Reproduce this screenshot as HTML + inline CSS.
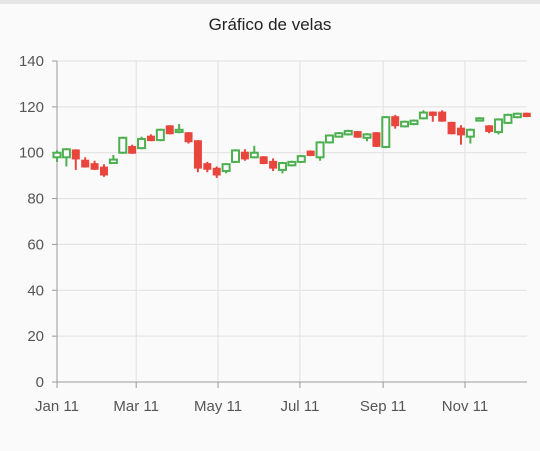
<!DOCTYPE html>
<html><head><meta charset="utf-8"><style>
body{margin:0;background:#fafafa;font-family:"Liberation Sans",sans-serif}
svg{display:block}
</style></head><body>
<svg id="c" width="540" height="451">
<rect x="0" y="0" width="540" height="4" fill="#e6e6e6"/>
<text x="270" y="30" text-anchor="middle" font-size="17" fill="#222">Gráfico de velas</text>
</svg>
<script>
const opens =[98,98,101,96.5,95,93.5,95.5,100,102.5,102,107,105.5,111.5,109,108.5,105,95,93,92,96,100,98,98,96,92.5,94.5,96,100.5,98,104.5,107,108,109,106.5,108.5,102.5,115.5,111.5,112.5,115,117.5,117.5,113,110.5,107,114,111.5,109,113,115.5,117];
const closes=[100,101.5,97.5,94,93,90.5,97,106.5,100,106,105.5,110,108.5,110,105,93.5,93,90.5,95,101,97.5,100,95.5,93.5,95.5,96,98.5,99,104.5,107.5,108.5,109.5,107,108,103,115.5,112,113.5,114,117.5,116.5,114,108.5,108,110,115,109.5,114.5,116.5,117,116];
const highs =[101,102,101.5,98,96.5,95,99,107,103.5,107,108,110.5,112,112.5,109,105.5,96,94,95.5,101.5,101.5,103,98.5,97.5,96,96.5,99,101,105,108,109,110,109.5,108.5,109,116,116.5,114,114.5,118.5,118,118.5,113.5,112,110.5,115.5,112,115,117,117.5,117.5];
const lows  =[96,94,92.5,93.5,92.5,89.5,96.5,99.5,99.5,101.5,105,105,108,108.5,104,91.5,91.5,89,91,95.5,96.5,97.5,95,92,91,94,95.5,98.5,96.5,104,107,107.5,106.5,105,102.5,102,110.5,111,112,114.5,113.5,113.5,108,103.5,104,114,108.5,108,112.5,115,115.5];
const yTicks=[0,20,40,60,80,100,120,140];
const xTickLabels=["Jan 11","Mar 11","May 11","Jul 11","Sep 11","Nov 11"];
const xTickDays=[0,59,120,181,243,304];
const NS="http://www.w3.org/2000/svg";
const svg=document.getElementById('c');
const L=57,R=527,T=61,B=382;
const y=v=>B-(v-0)/140*(B-T);
const pxDay=(465-57)/304;
const xd=d=>L+d*pxDay;
const xi=i=>xd(i*7);
function mk(t,a){const e=document.createElementNS(NS,t);for(const k in a)e.setAttribute(k,a[k]);svg.appendChild(e);return e;}
yTicks.forEach(v=>{
 const g=mk('line',{x1:L,x2:R,y1:y(v),y2:y(v),stroke:v===0?'#999':'#e0e0e0','stroke-width':1});
 
 
 const tk=mk('line',{x1:L-5,x2:L,y1:y(v),y2:y(v),stroke:'#999'});
 
 
 const t=mk('text',{x:L-13,y:y(v)+5,'text-anchor':'end','font-size':15,fill:'#555'});
 t.textContent=v;
 
 
});
xTickDays.forEach((d,i)=>{
 const g=mk('line',{x1:xd(d),x2:xd(d),y1:T,y2:B,stroke:i===0?'#999':'#e0e0e0'});
 
 
 const tk=mk('line',{x1:xd(d),x2:xd(d),y1:B,y2:B+6,stroke:'#999'});
 
 
 const t=mk('text',{x:xd(d),y:411,'text-anchor':'middle','font-size':15,fill:'#555'});
 t.textContent=xTickLabels[i];
 
 
});
const ab=mk('line',{x1:L,x2:R,y1:B,y2:B,stroke:'#999'});


opens.forEach((o,i)=>{
 const c=closes[i],up=c>=o,col=up?'#4caf50':'#e8453c',x=xi(i);
 const w=mk('line',{x1:x,x2:x,y1:y(highs[i]),y2:y(lows[i]),stroke:col,'stroke-width':2});
 
 
 const top=y(Math.max(o,c)),h=Math.max(2,Math.abs(y(o)-y(c)));
 const r=up?mk('rect',{x:x-3.5,y:top,width:7,height:h,fill:'#fafafa',stroke:col,'stroke-width':2})
           :mk('rect',{x:x-4,y:top-1,width:8,height:h+2,fill:col});
 
 
});
</script>
</body></html>
